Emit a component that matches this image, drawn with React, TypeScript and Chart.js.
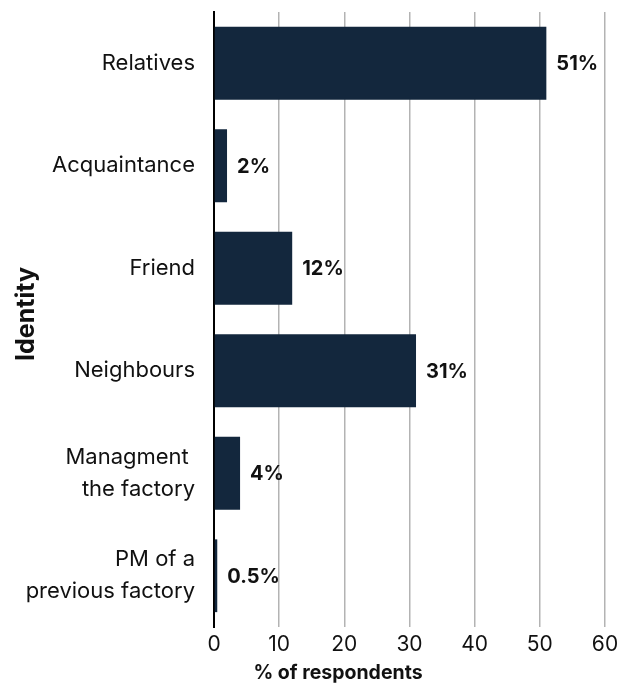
import React, { useEffect, useRef } from "react";
import { Chart, registerables } from "chart.js";

Chart.register(...registerables);

const categories: (string | string[])[] = [
  "Relatives",
  "Acquaintance",
  "Friend",
  "Neighbours",
  ["Managment ", "the factory"],
  ["PM of a", "previous factory"],
];
const values: number[] = [51, 2, 12, 31, 4, 0.5];
const valueLabels: string[] = ["51%", "2%", "12%", "31%", "4%", "0.5%"];
const xTitle = "% of respondents";
const yTitle = "Identity";

const FONT = "Inter, 'Open Sans', sans-serif";
const BAR = "#13273d";
const TEXT = "#111111";

const labelPlugin = {
  id: "barValueLabels",
  afterDatasetsDraw(chart: any) {
    const ctx = chart.ctx;
    const meta = chart.getDatasetMeta(0);
    ctx.save();
    ctx.font = `bold 20px ${FONT}`;
    ctx.fillStyle = TEXT;
    ctx.textAlign = "left";
    ctx.textBaseline = "middle";
    meta.data.forEach((el: any, i: number) => {
      ctx.fillText(valueLabels[i], el.x + 10, el.y + 1);
    });
    // axis titles
    ctx.font = `bold 19.5px ${FONT}`;
    ctx.textAlign = "center";
    ctx.fillText(xTitle, 338, 673);
    ctx.font = `bold 25px ${FONT}`;
    ctx.translate(26, 314);
    ctx.rotate(-Math.PI / 2);
    ctx.fillText(yTitle, 0, 0);
    ctx.restore();
  },
};

export default function App() {
  const ref = useRef<HTMLCanvasElement>(null);
  useEffect(() => {
    document.body.style.margin = "0";
    const chart = new Chart(ref.current!, {
      type: "bar",
      data: {
        labels: categories,
        datasets: [
          {
            data: values,
            backgroundColor: BAR,
            categoryPercentage: 0.71,
            barPercentage: 1,
          },
        ],
      },
      options: {
        indexAxis: "y",
        animation: false,
        responsive: false,
        maintainAspectRatio: false,
        layout: { padding: { top: 12, right: 27, left: 0, bottom: 0 } },
        plugins: { legend: { display: false }, tooltip: { enabled: false } },
        scales: {
          x: {
            min: 0,
            max: 60,
            ticks: {
              stepSize: 10,
              color: TEXT,
              font: { family: FONT, size: 21 },
              padding: 5,
            },
            grid: { color: "#b3b3b3", lineWidth: 1.5, drawTicks: false },
            border: { display: false },
            afterFit(scale: any) {
              scale.height = 57;
              scale.paddingLeft = 0;
              scale.paddingRight = 0;
            },
          },
          y: {
            ticks: {
              color: TEXT,
              font: { family: FONT, size: 22, lineHeight: 1.45 },
              padding: 19,
            },
            grid: { display: false, drawTicks: false },
            border: { display: true, color: "#000000", width: 2 },
            afterFit(scale: any) {
              scale.width = 214;
              scale.paddingTop = 0;
              scale.paddingBottom = 0;
            },
          },
        },
      },
      plugins: [labelPlugin],
    } as any);
    return () => chart.destroy();
  }, []);
  return <canvas ref={ref} width={632} height={684} style={{ display: "block" }} />;
}
